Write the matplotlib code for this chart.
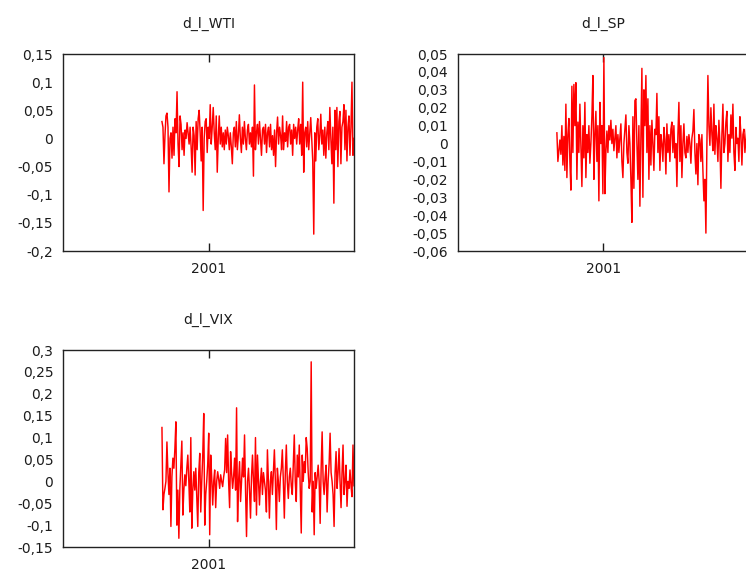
import numpy as np
import matplotlib
matplotlib.use("Agg")
import matplotlib.pyplot as plt
from matplotlib.ticker import FuncFormatter, MultipleLocator

plt.rcParams["font.family"] = ["DejaVu Sans"]

# sample covers roughly sep 2000 -> end of 2001 (fractional years)
date_start = 2000.68
date_end = 2002.0
x_ticks = [2001]

titles = ["d_l_WTI", "d_l_SP", "d_l_VIX"]

d_l_WTI = [
    0.03, 0.02, -0.045, 0.005, 0.04, 0.045, 0.02, -0.095, 0.0, 0.01,
    -0.035, 0.02, -0.03, 0.035, 0.01, 0.083, -0.01, -0.05, 0.04, 0.025,
    -0.02, 0.01, -0.03, 0.015, 0.0, 0.028, 0.01, -0.01, 0.02, -0.015,
    -0.06, 0.02, 0.005, -0.065, 0.03, -0.02, 0.035, 0.05, 0.01, -0.04,
    0.02, -0.128, 0.0, 0.03, 0.035, -0.025, 0.02, 0.0, 0.06, -0.01,
    0.02, 0.055, 0.01, -0.02, 0.04, -0.06, 0.0, 0.04, -0.01, 0.02,
    -0.015, 0.01, -0.02, 0.015, -0.01, 0.02, 0.005, -0.02, 0.01, -0.015,
    -0.045, 0.01, 0.02, -0.015, 0.03, -0.02, 0.005, 0.042, 0.0, -0.025,
    0.02, -0.01, 0.03, 0.0, -0.02, 0.015, 0.025, -0.01, 0.01, -0.015,
    0.02, -0.067, 0.095, -0.02, 0.01, 0.025, -0.01, 0.03, 0.0, -0.03,
    0.015, 0.02, -0.01, 0.025, -0.025, 0.01, 0.02, -0.015, 0.025, -0.02,
    0.005, -0.03, 0.015, -0.05, 0.01, 0.038, -0.01, 0.02, 0.005, -0.02,
    0.04, -0.02, 0.01, -0.005, 0.03, -0.015, 0.02, 0.025, -0.01, 0.015,
    -0.03, 0.025, 0.0, 0.02, -0.01, 0.015, 0.035, -0.01, 0.025, -0.03,
    0.1, -0.06, 0.01, 0.02, -0.015, 0.03, -0.02, 0.01, 0.037, 0.0,
    -0.04, -0.17, 0.01, -0.04, 0.02, 0.035, -0.02, 0.005, 0.043, -0.01,
    0.015, -0.03, 0.02, -0.035, 0.01, 0.03, -0.02, 0.055, 0.0, -0.045,
    0.02, -0.115, 0.05, -0.02, 0.055, -0.05, 0.03, 0.048, -0.045, 0.02,
    0.03, 0.06, -0.02, 0.05, -0.04, 0.02, 0.04, -0.03, 0.02, 0.1, -0.03, 0.0,
]

d_l_SP = [
    0.006, -0.01, -0.004, 0.002, -0.006, 0.01, -0.012, 0.004, -0.015, 0.022,
    -0.019, 0.005, 0.014, -0.01, -0.026, 0.032, -0.005, 0.033, 0.01, 0.034,
    -0.02, 0.012, -0.005, 0.022, 0.0, -0.024, 0.01, -0.008, 0.023, -0.019,
    0.005, -0.005, 0.01, -0.011, 0.0, 0.015, 0.038, -0.02, 0.005, 0.018,
    -0.01, 0.01, -0.032, 0.023, 0.0, 0.01, -0.028, 0.048, -0.028, -0.005,
    0.007, -0.005, 0.01, 0.002, 0.013, 0.0, 0.008, -0.004, 0.003, 0.01,
    -0.008, 0.005, -0.005, 0.003, 0.011, -0.01, -0.019, 0.0, 0.008, 0.016,
    -0.005, -0.011, 0.01, 0.0, -0.02, -0.044, 0.015, -0.025, 0.024, 0.025,
    0.0, -0.02, 0.01, -0.035, 0.005, 0.042, -0.03, 0.03, 0.01, 0.038,
    -0.005, 0.025, -0.02, 0.01, -0.012, 0.013, 0.0, -0.015, 0.008, 0.005,
    0.028, -0.005, 0.015, -0.015, 0.005, 0.0, -0.01, 0.009, 0.002, -0.017,
    0.011, -0.005, 0.005, -0.01, 0.008, 0.012, -0.005, 0.01, -0.008, 0.0,
    -0.024, 0.005, 0.023, -0.01, 0.01, -0.019, 0.0, 0.011, -0.005, -0.008,
    0.004, -0.005, 0.005, 0.0, -0.011, 0.003, 0.007, 0.019, -0.005, -0.017,
    0.0, -0.023, 0.005, 0.002, -0.01, 0.005, -0.015, -0.032, -0.02, -0.05,
    0.0, 0.038, 0.01, -0.001, 0.02, 0.005, -0.004, 0.022, -0.006, 0.01,
    0.003, -0.01, 0.013, 0.0, -0.025, 0.005, 0.022, -0.005, 0.0, 0.012,
    0.018, -0.01, 0.005, -0.005, 0.016, 0.003, 0.022, -0.005, -0.015, 0.009,
    0.0, 0.003, -0.01, 0.015, 0.005, -0.012, 0.005, 0.008, -0.005, 0.003, 0.01, -0.01, 0.005,
]

d_l_VIX = [
    0.123, -0.065, -0.03, -0.016, 0.0, 0.09, 0.02, -0.03, 0.03, -0.103,
    0.01, 0.053, 0.03, 0.075, 0.136, -0.1, -0.02, -0.13, -0.016, 0.04,
    0.092, -0.077, -0.02, 0.015, -0.01, 0.03, 0.06, 0.0, -0.07, 0.1,
    -0.107, -0.02, 0.022, -0.02, 0.03, -0.04, -0.103, 0.02, 0.064, -0.07,
    0.0, 0.06, 0.155, -0.1, -0.03, 0.0, 0.04, 0.11, -0.122, 0.06,
    0.01, -0.054, 0.0, 0.026, -0.06, 0.0, 0.022, 0.005, -0.016, 0.015,
    0.0, -0.012, 0.01, 0.026, 0.098, 0.02, 0.106, 0.0, -0.06, 0.068,
    0.02, -0.016, 0.01, 0.053, -0.02, 0.168, -0.092, 0.0, 0.045, -0.046,
    0.0, 0.053, 0.01, 0.106, -0.02, -0.126, 0.0, 0.03, -0.02, -0.084,
    0.01, 0.06, 0.0, -0.046, 0.1, -0.077, 0.06, 0.0, -0.054, 0.0,
    0.03, -0.03, 0.02, 0.0, -0.02, -0.07, 0.072, 0.0, -0.084, 0.0,
    0.022, -0.03, 0.02, 0.072, 0.0, -0.11, 0.03, 0.0, -0.046, 0.01,
    0.03, 0.072, 0.0, -0.084, 0.02, 0.083, 0.0, -0.039, 0.01, 0.03,
    -0.01, -0.03, 0.04, 0.106, 0.0, -0.046, 0.06, 0.01, 0.083, -0.02,
    -0.118, 0.06, 0.0, 0.045, 0.02, 0.1, 0.075, 0.02, -0.016, 0.0,
    0.273, -0.07, 0.0, -0.122, 0.02, -0.016, 0.01, 0.037, 0.0, -0.096,
    0.03, 0.113, 0.0, -0.03, 0.01, 0.037, -0.07, 0.0, 0.04, 0.11,
    0.02, 0.0, -0.03, -0.103, 0.02, 0.068, -0.016, 0.02, 0.075, 0.0,
    -0.06, 0.02, 0.083, -0.03, 0.0, 0.037, -0.057, 0.0, -0.016, 0.026,
    -0.01, -0.035, 0.083, -0.01,
]

series = [d_l_WTI, d_l_SP, d_l_VIX]
y_limits = [(-0.2, 0.15), (-0.06, 0.05), (-0.15, 0.3)]
y_steps = [0.05, 0.01, 0.05]

# axes boxes in figure fractions (left, bottom, width, height)
boxes = [
    [0.0845, 0.5627, 0.390, 0.3432],
    [0.6139, 0.5627, 0.390, 0.3432],
    [0.0845, 0.0470, 0.390, 0.3432],
]

text_color = "#1c1c1c"


def comma_fmt(v, pos):
    # gretl writes decimals with a comma
    s = "%g" % round(v, 4)
    return s.replace(".", ",")


fig = plt.figure(figsize=(7.46, 5.74), dpi=100)

for name, vals, ylim, step, box in zip(titles, series, y_limits, y_steps, boxes):
    ax = fig.add_axes(box)
    x = np.linspace(date_start, date_end, len(vals))
    ax.plot(x, vals, color="#ff0000", lw=1.05)

    ax.set_xlim(2000.0, 2002.0)
    ax.set_ylim(*ylim)
    ax.set_xticks(x_ticks)
    ax.set_xticklabels([str(t) for t in x_ticks])
    ax.yaxis.set_major_locator(MultipleLocator(step))
    ax.yaxis.set_major_formatter(FuncFormatter(comma_fmt))

    # ticks: inward, mirrored on top/right, labels only left/bottom
    ax.tick_params(axis="x", direction="in", length=6, width=1, top=True,
                   pad=8, labelsize=10, colors=text_color)
    ax.tick_params(axis="y", direction="in", length=6, width=1, right=True,
                   pad=7, labelsize=10, colors=text_color)
    ax.tick_params(axis="y", which="major", left=True, length=0)
    for sp in ax.spines.values():
        sp.set_color("#222222")
        sp.set_linewidth(1.0)

    ax.set_title(name, fontsize=10, color=text_color, pad=19)

plt.savefig("out.png", dpi=100)
